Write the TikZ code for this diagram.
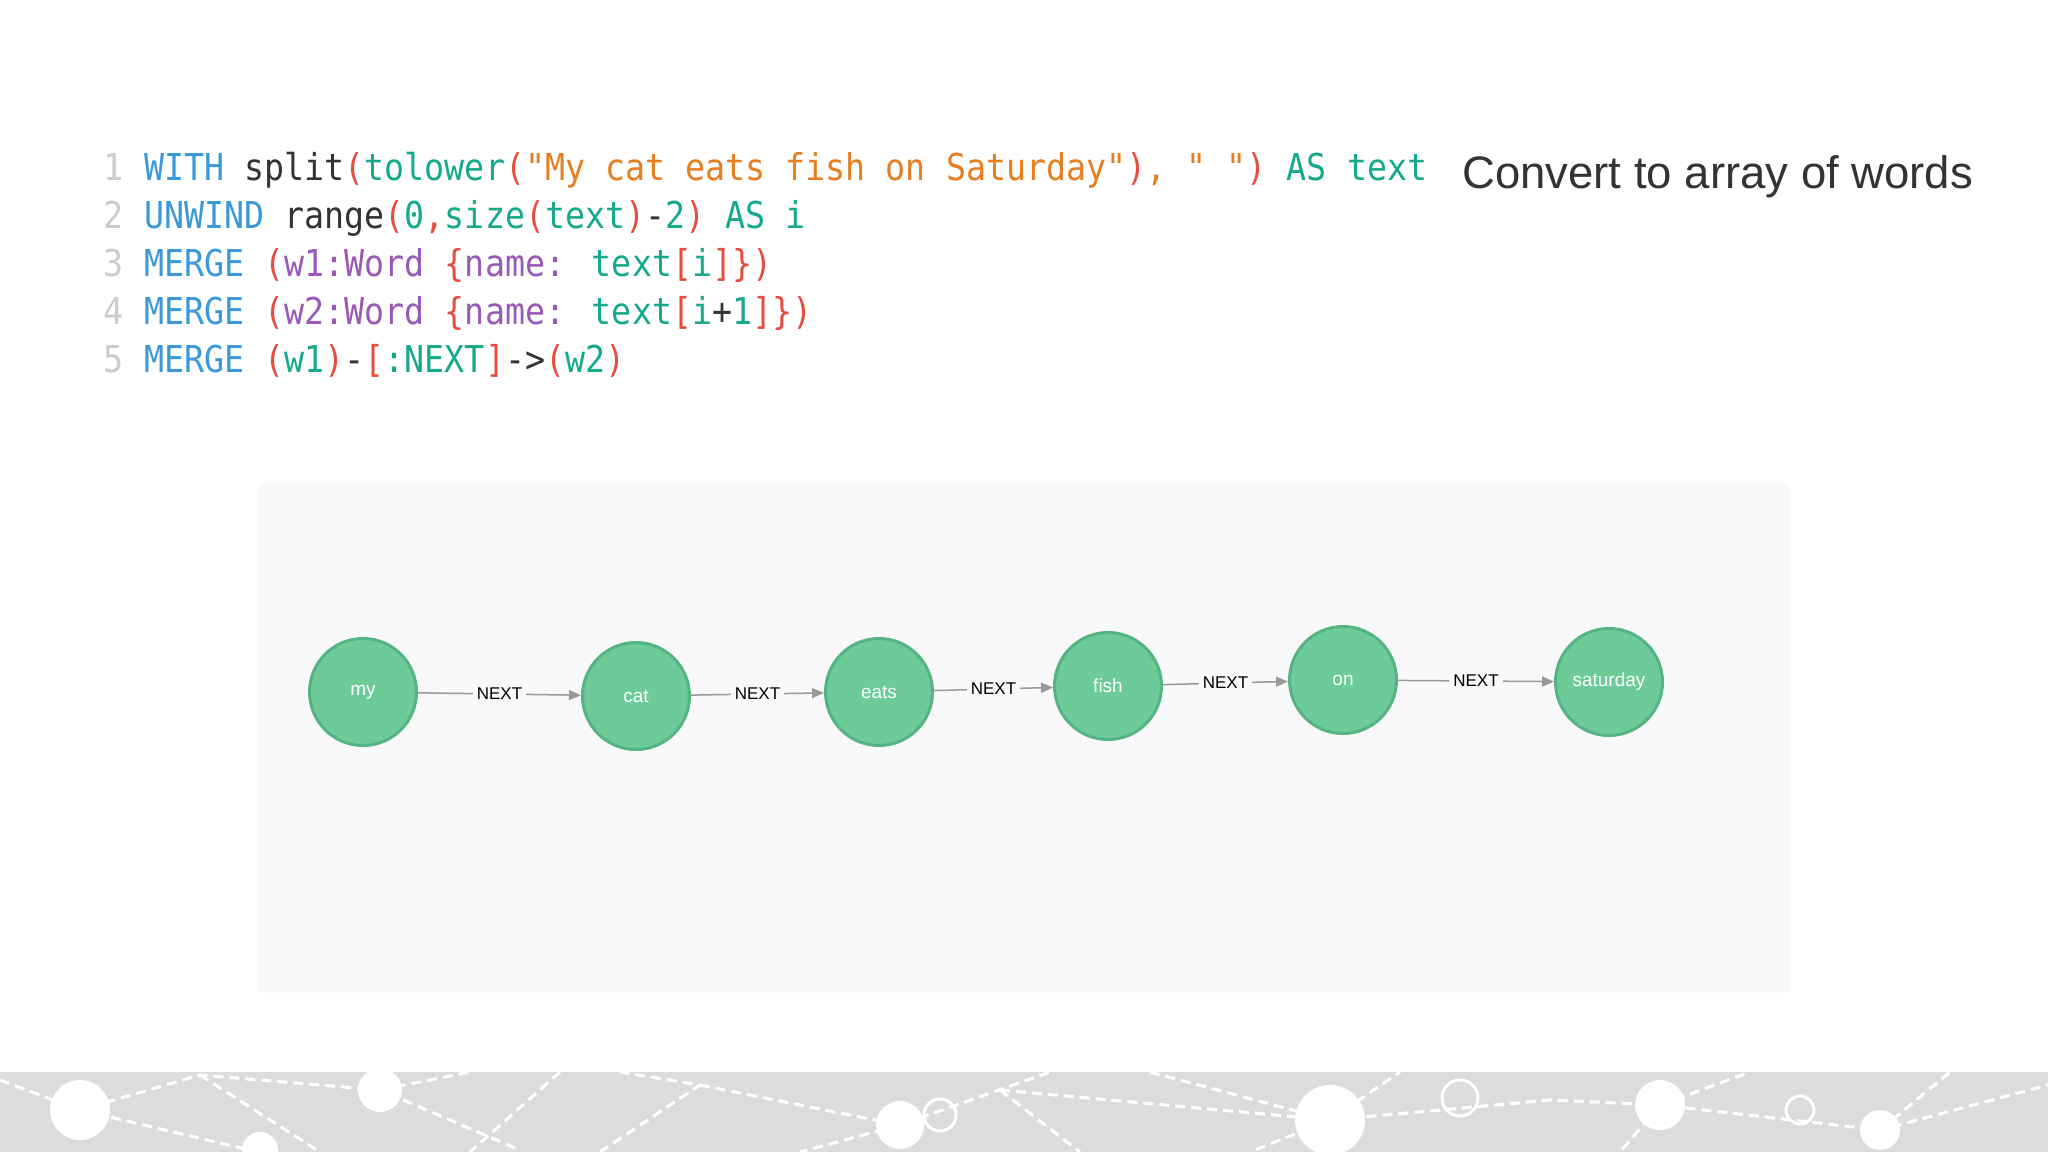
\documentclass[tikz,border=0pt]{standalone}
\usepackage{fontspec}
\setmainfont{Liberation Sans}
\newfontfamily\codefont[FakeStretch=0.9]{DejaVu Sans Mono}
\usetikzlibrary{arrows.meta}
\definecolor{kblue}{HTML}{3A9AD9}
\definecolor{kred}{HTML}{E74C3C}
\definecolor{kteal}{HTML}{16A98A}
\definecolor{korange}{HTML}{E67E22}
\definecolor{kpurple}{HTML}{9B59B6}
\definecolor{kblack}{HTML}{333333}
\definecolor{kgrey}{HTML}{CCCCCC}
\definecolor{nodefill}{HTML}{6DCB9A}
\definecolor{nodeline}{HTML}{55B582}
\definecolor{panel}{HTML}{F9F9FB}
\definecolor{band}{HTML}{DCDCDC}
\newcommand{\B}[1]{\textcolor{kblue}{#1}}
\newcommand{\R}[1]{\textcolor{kred}{#1}}
\newcommand{\T}[1]{\textcolor{kteal}{#1}}
\newcommand{\Or}[1]{\textcolor{korange}{#1}}
\newcommand{\Pu}[1]{\textcolor{kpurple}{#1}}
\newcommand{\K}[1]{\textcolor{kblack}{#1}}
\tikzset{
 word/.style={circle,minimum size=107pt,inner sep=0pt,fill=nodefill,draw=nodeline,line width=3pt,text=white,font=\fontsize{19}{22}\selectfont},
 rel/.style={draw=gray!80,line width=1.5pt,-{Triangle[length=12pt,width=10pt]}},
 rellab/.style={fill=panel,inner sep=4pt,font=\fontsize{17}{19}\selectfont,text=black},
 codeline/.style={anchor=base west,inner sep=0pt,font=\codefont\fontsize{37}{40}\selectfont},
 num/.style={anchor=base east,inner sep=0pt,text=kgrey,font=\codefont\fontsize{37}{40}\selectfont},
 bandline/.style={white,line width=3pt,dashed,dash pattern=on 10pt off 6pt}
}
\begin{document}
\begin{tikzpicture}[x=1pt,y=-1pt]
\useasboundingbox (0,0) rectangle (2048,1152);
\fill[white] (0,0) rectangle (2048,1152);
% bottom band
\begin{scope}
\clip (0,1072) rectangle (2048,1152);
\fill[band] (0,1072) rectangle (2048,1152);
\fill[white] (80,1110) circle (30) (380,1090) circle (22) (900,1125) circle (24) (1330,1120) circle (35) (1660,1105) circle (25) (1880,1130) circle (20) (260,1150) circle (18);
\draw[white,line width=3pt] (940,1115) circle (16) (1460,1098) circle (18) (1800,1110) circle (14);
\draw[bandline] (0,1080)--(80,1110)--(200,1075)--(380,1090)--(520,1150);
\draw[bandline] (80,1110)--(250,1150) (200,1075)--(320,1152) (380,1090)--(470,1072);
\draw[bandline] (560,1072)--(470,1152) (700,1085)--(900,1125)--(1050,1072) (900,1125)--(800,1152);
\draw[bandline] (1000,1090)--(1330,1120)--(1550,1100)--(1660,1105)--(1880,1130)--(2048,1085);
\draw[bandline] (1150,1072)--(1330,1120)--(1250,1152) (1330,1120)--(1400,1072) (1660,1105)--(1620,1152) (1660,1105)--(1750,1072) (1880,1130)--(1950,1072);
\draw[bandline] (600,1152)--(700,1085)--(620,1072) (1000,1090)--(1080,1152);
\end{scope}
% code
\foreach \n/\y in {1/180,2/228,3/276,4/324,5/372}{\node[num] (n\n) at (124,\y) {\n};}
\node[codeline] (c1) at (144,180) {\B{WITH} \K{split}\R{(}\T{tolower}\R{(}\Or{"My cat eats fish on Saturday"}\R{)}\Or{, " "}\R{)} \T{AS text}};
\node[codeline] (c2) at (144,228) {\B{UNWIND} \K{range}\R{(}\T{0}\R{,}\T{size}\R{(}\T{text}\R{)}\K{-}\T{2}\R{)} \T{AS i}};
\node[codeline] (c3) at (144,276) {\B{MERGE} \R{(}\Pu{w1:Word} \R{\{}\Pu{name:} \T{text}\R{[}\T{i}\R{]\})}};
\node[codeline] (c4) at (144,324) {\B{MERGE} \R{(}\Pu{w2:Word} \R{\{}\Pu{name:} \T{text}\R{[}\T{i}\K{+}\T{1}\R{]\})}};
\node[codeline] (c5) at (144,372) {\B{MERGE} \R{(}\T{w1}\R{)}\K{-}\R{[}\T{:NEXT}\R{]}\K{->}\R{(}\T{w2}\R{)}};
\node[anchor=west,inner sep=0pt,text=kblack,font=\fontsize{45.5}{50}\selectfont] (title) at (1462,177) {Convert to array of words};
% panel
\fill[panel] (259,483) rectangle (1789,993);
\node[word] (my) at (363,692) {my};
\node[word] (cat) at (636,696) {cat};
\node[word] (eats) at (879,692) {eats};
\node[word] (fish) at (1108,686) {fish};
\node[word] (on) at (1343,680) {on};
\node[word] (sat) at (1609,682) {saturday};
\foreach \a/\b in {my/cat,cat/eats,eats/fish,fish/on,on/sat}{
 \draw[rel] (\a) -- node[rellab] {NEXT} (\b);
}
\end{tikzpicture}
\end{document}
